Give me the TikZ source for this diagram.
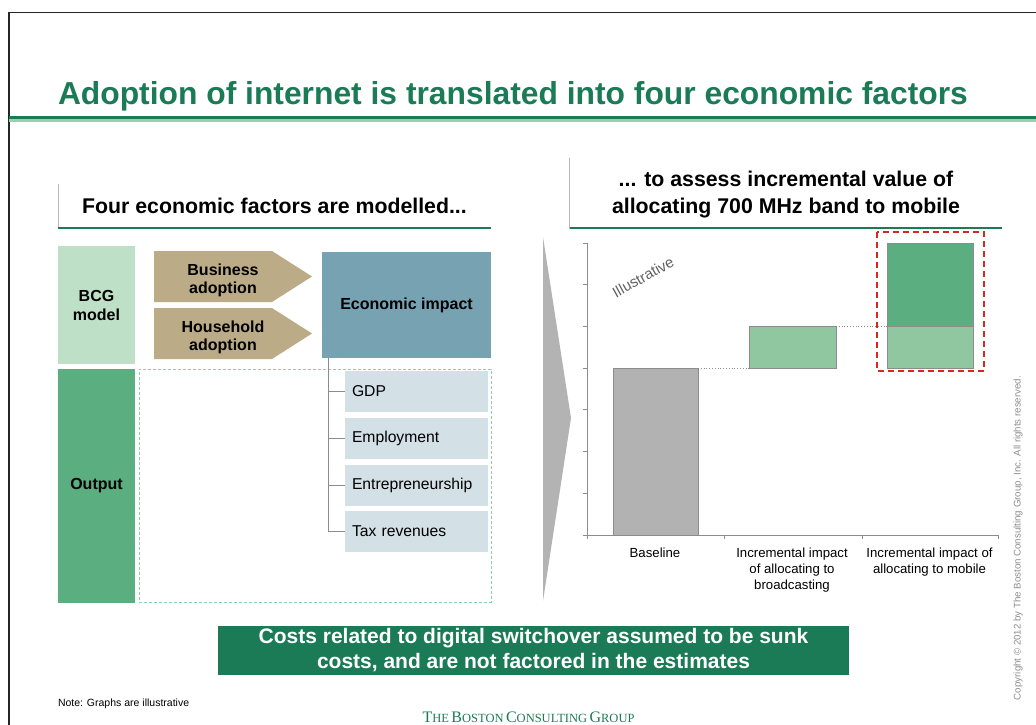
\documentclass[tikz,border=0pt]{standalone}
\usepackage{fontspec}
\setmainfont{Liberation Sans}
\newfontfamily\bcgserif{Liberation Serif}
\usetikzlibrary{calc}

\definecolor{bcggreen}{HTML}{1A7B56}
\definecolor{bcglight}{HTML}{9BCFAE}
\definecolor{modelgreen}{HTML}{BDE0C7}
\definecolor{outgreen}{HTML}{5BAE80}
\definecolor{tanfill}{HTML}{BBAB86}
\definecolor{econblue}{HTML}{77A2B2}
\definecolor{factorblue}{HTML}{D3E0E6}
\definecolor{dashgreen}{HTML}{8FD0AC}
\definecolor{chevgray}{HTML}{B3B3B3}
\definecolor{basegray}{HTML}{B2B2B2}
\definecolor{bargreen}{HTML}{90C6A0}
\definecolor{hired}{HTML}{D6281E}
\definecolor{axisgray}{HTML}{8C8C8C}

\newcommand\fsz[2]{\fontsize{#1}{#2}\selectfont}
\newcommand\bcgsc[2]{{\fsz{16}{16}#1}{\fsz{12.5}{12.5}#2}}

\tikzset{
  plain/.style={inner sep=0pt, outer sep=0pt},
  rowlabel/.style={plain, anchor=north west, align=center, font=\bfseries\fsz{16}{19}},
  adoptfill/.style={fill=tanfill},
  adopttext/.style={plain, align=center, font=\bfseries\fsz{16}{18}},
  factor/.style={plain, anchor=north west, fill=factorblue, text width=129pt,
    inner xsep=7pt, minimum height=41pt, align=left, font=\fsz{15.7}{15.7}},
  treeline/.style={axisgray, line width=1pt},
  axisline/.style={axisgray, line width=1pt},
  bar/.style={plain, anchor=south west, draw=axisgray, line width=0.8pt},
  catlabel/.style={plain, anchor=north, align=center, font=\fsz{13.2}{16}},
  headtext/.style={plain, anchor=base, font=\bfseries\fsz{21.3}{27}},
}

\begin{document}
\begin{tikzpicture}[x=1pt,y=-1pt]
\useasboundingbox (0,0) rectangle (1036,725);

% page frame
\draw[line width=1.5pt, black!85] (9,725) -- (9,12.5) -- (1036,12.5);

% title and its rule
\node[plain, anchor=base west, text=bcggreen, font=\bfseries\fsz{31.8}{32}] (title) at (58,104)
  {Adoption of internet is translated into four economic factors};
\fill[bcggreen] (9,116) rectangle (1036,119);
\fill[bcglight] (9,119) rectangle (1036,122);

% left column header
\node[headtext] (lhead) at (274.5,213) {Four economic factors are modelled...};
\draw[gray!55, line width=0.8pt] (58,184) -- (58,229);
\draw[bcggreen, line width=2pt] (58,228) -- (491,228);

% right column header (base anchor sits on the last line)
\node[headtext, align=center] (rhead) at (786,213)
  {... to assess incremental value of\\allocating 700 MHz band to mobile};
\draw[gray!55, line width=0.8pt] (569.5,158) -- (569.5,229);
\draw[bcggreen, line width=2pt] (569.5,228) -- (1002,228);

% row labels
\node[rowlabel, fill=modelgreen, minimum width=77pt, minimum height=118pt] (bcg) at (58,246) {BCG\\model};
\node[rowlabel, fill=outgreen, minimum width=77pt, minimum height=234pt] (output) at (58,369) {Output};

% adoption chevrons
\fill[adoptfill] (154,251) -- (272,251) -- (312,276.5) -- (272,302) -- (154,302) -- cycle;
\node[adopttext] (bizadopt) at (223,280) {Business\\adoption};
\fill[adoptfill] (154,308) -- (272,308) -- (312,333.5) -- (272,359) -- (154,359) -- cycle;
\node[adopttext] (hhadopt) at (223,337) {Household\\adoption};

% economic impact
\node[plain, anchor=north west, fill=econblue, minimum width=169pt, minimum height=106pt,
  font=\bfseries\fsz{16}{16}] (econ) at (322,252) {Economic impact};

% output frame
\node[plain, anchor=north west, draw=dashgreen, line width=1pt, dash pattern=on 3pt off 2pt,
  minimum width=352pt, minimum height=233pt] (outframe) at (139,369) {};

% output factors
\node[factor] (gdp) at (345,371) {GDP};
\node[factor] (emp) at (345,418) {Employment};
\node[factor] (ent) at (345,464.5) {Entrepreneurship};
\node[factor] (tax) at (345,511) {Tax revenues};

\coordinate (trunk) at (328,358);
\draw[treeline] (trunk) |- (gdp.west);
\draw[treeline] (trunk) |- (emp.west);
\draw[treeline] (trunk) |- (ent.west);
\draw[treeline] (trunk) |- (tax.west);

% big chevron between the columns
\fill[chevgray] (543,237) -- (571,418) -- (543,601) -- cycle;

% chart axes
\draw[axisline] (587,243) -- (587,539);
\foreach \ty in {243,284.7,326.4,368.1,409.9,451.6,493.3,535}
  \draw[axisline] (583,\ty) -- (587,\ty);
\draw[axisline] (583,535) -- (998,535);
\foreach \tx in {724,862,998}
  \draw[axisline] (\tx,535) -- (\tx,539);

% bars
\node[bar, fill=basegray, minimum width=85pt, minimum height=167pt] (base) at (613,535) {};
\node[bar, fill=bargreen, minimum width=87pt, minimum height=42pt] (bcast) at (749,368) {};
\node[bar, fill=bargreen, minimum width=86pt, minimum height=42pt] (moblow) at (887,368) {};
\node[bar, fill=outgreen, minimum width=86pt, minimum height=83pt] (mobtop) at (887,326) {};
\draw[axisgray, dotted, line width=0.8pt] (base.north east) -- (bcast.south west);
\draw[axisgray, dotted, line width=0.8pt] (bcast.north east) -- (moblow.north west);

% highlight around the mobile bar
\draw[hired, line width=2pt, dash pattern=on 6pt off 4pt] (877,232) rectangle (984,371);

\node[plain, rotate=29, text=black!62, font=\fsz{15}{15}] (illus) at (643,277) {Illustrative};

% category labels
\node[catlabel] (lab1) at (655,548) {Baseline};
\node[catlabel] (lab2) at (792,548) {Incremental impact\\of allocating to\\broadcasting};
\node[catlabel] (lab3) at (929.5,548) {Incremental impact of\\allocating to mobile};

% conclusion banner
\node[plain, fill=bcggreen, text=white, align=center, font=\bfseries\fsz{21}{25},
  minimum width=631pt, minimum height=49pt] (sunk) at (533.5,650.5)
  {Costs related to digital switchover assumed to be sunk\\costs, and are not factored in the estimates};

% footer
\node[plain, anchor=base west, font=\fsz{10.5}{10.5}] (note) at (58,706.5) {Note: Graphs are illustrative};
\node[plain, anchor=base, text=bcggreen, font=\bcgserif] (logo) at (528.5,722)
  {\bcgsc{T}{HE} \bcgsc{B}{OSTON} \bcgsc{C}{ONSULTING} \bcgsc{G}{ROUP}};
\node[plain, rotate=90, text=black!45, font=\fsz{9.7}{9.7}] (copy) at (1018,538)
  {Copyright © 2012 by The Boston Consulting Group, Inc. All rights reserved.};
\end{tikzpicture}
\end{document}
